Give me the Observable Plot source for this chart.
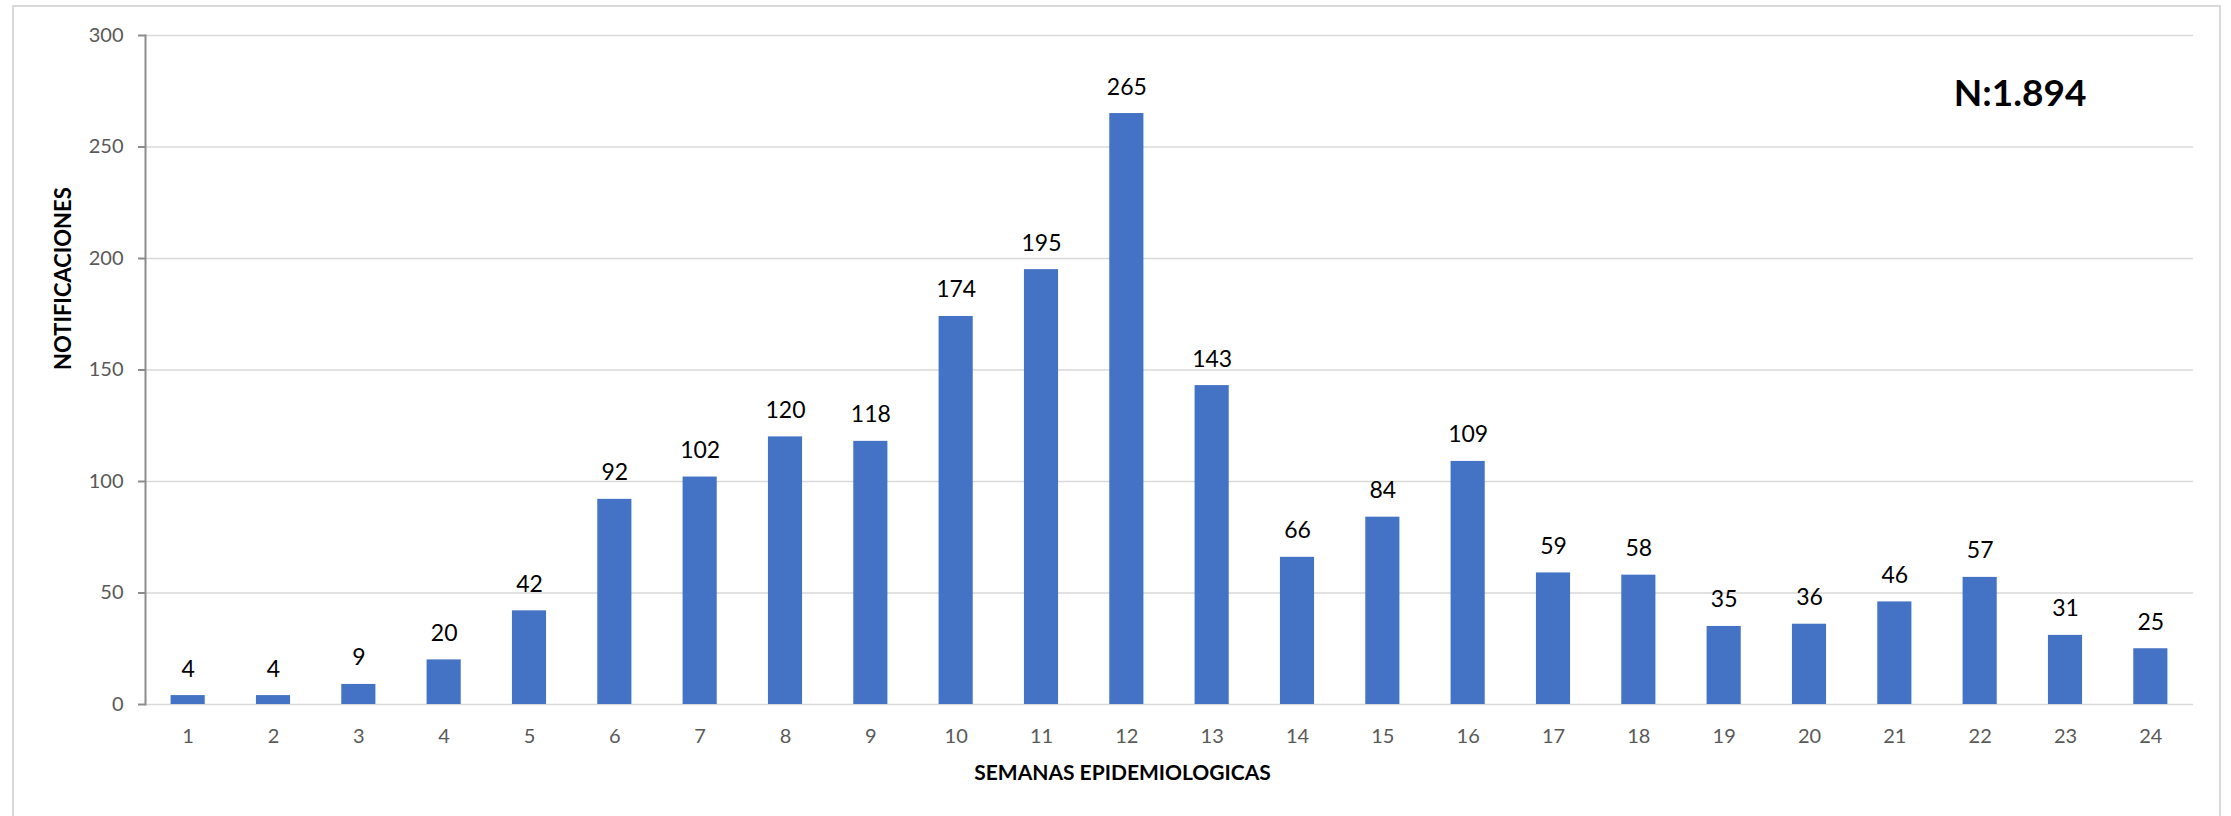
<!DOCTYPE html>
<html>
<head>
<meta charset="utf-8">
<script src="https://cdn.jsdelivr.net/npm/d3@7"></script>
<script src="https://cdn.jsdelivr.net/npm/@observablehq/plot@0.6"></script>
<style>
  html, body { margin: 0; padding: 0; background: #fff; overflow: hidden; }
  #wrap { position: relative; width: 2231px; height: 816px; }
  #box { position: absolute; left: 12px; top: 5px; width: 2209px; height: 900px; border: 2px solid #d9d9d9; box-sizing: border-box; }
  #chart { position: absolute; left: 0; top: 0; }
</style>
</head>
<body>
<div id="wrap"><div id="box"></div><div id="chart"></div></div>
<script>
const semanas = ["1","2","3","4","5","6","7","8","9","10","11","12","13","14","15","16","17","18","19","20","21","22","23","24"];
const notificaciones = [4,4,9,20,42,92,102,120,118,174,195,265,143,66,84,109,59,58,35,36,46,57,31,25];
const yTicks = [0,50,100,150,200,250,300];
const totalLabel = "N:1.894";
const xTitle = "SEMANAS EPIDEMIOLOGICAS";
const yTitle = "NOTIFICACIONES";

const data = semanas.map((s, i) => ({semana: s, valor: notificaciones[i]}));

const chart = Plot.plot({
  width: 2231,
  height: 816,
  marginLeft: 145,
  marginRight: 38,
  marginTop: 35,
  marginBottom: 112,
  style: {fontFamily: "Lato, 'Open Sans', sans-serif", background: "transparent"},
  x: {domain: semanas, paddingInner: 0.6, paddingOuter: 0.3, round: false, axis: null},
  y: {domain: [0, 300], axis: null},
  marks: [
    Plot.gridY(yTicks, {stroke: "#d9d9d9", strokeOpacity: 1, strokeWidth: 1.5}),
    Plot.barY(data, {x: "semana", y: "valor", fill: "#4472C4"}),
    Plot.frame({anchor: "left", stroke: "#8c8c8c", strokeWidth: 2}),
    Plot.axisY(yTicks, {tickSize: 7, tickPadding: 15, fontSize: 20, fill: "#595959", stroke: "#8c8c8c", strokeWidth: 2, label: null}),
    Plot.axisX({tickSize: 0, tickPadding: 24, fontSize: 20, fill: "#595959", label: null}),
    Plot.text(data, {x: "semana", y: "valor", text: d => String(d.valor), lineAnchor: "bottom", dy: -19, fontSize: 23, fill: "#000"}),
    Plot.text([totalLabel], {frameAnchor: "top-right", text: d => d, textAnchor: "end", lineAnchor: "bottom", dx: -107, dy: 70, fontSize: 37, fontWeight: "bold", fill: "#000"}),
    Plot.text([xTitle], {frameAnchor: "bottom", text: d => d, lineAnchor: "middle", dx: -47, dy: 69, fontSize: 21, fontWeight: "bold", fill: "#000"}),
    Plot.text([yTitle], {frameAnchor: "left", text: d => d, rotate: -90, lineAnchor: "middle", dx: -82, fontSize: 22, fontWeight: "bold", fill: "#000"})
  ]
});
document.getElementById("chart").appendChild(chart);
</script>
</body>
</html>
